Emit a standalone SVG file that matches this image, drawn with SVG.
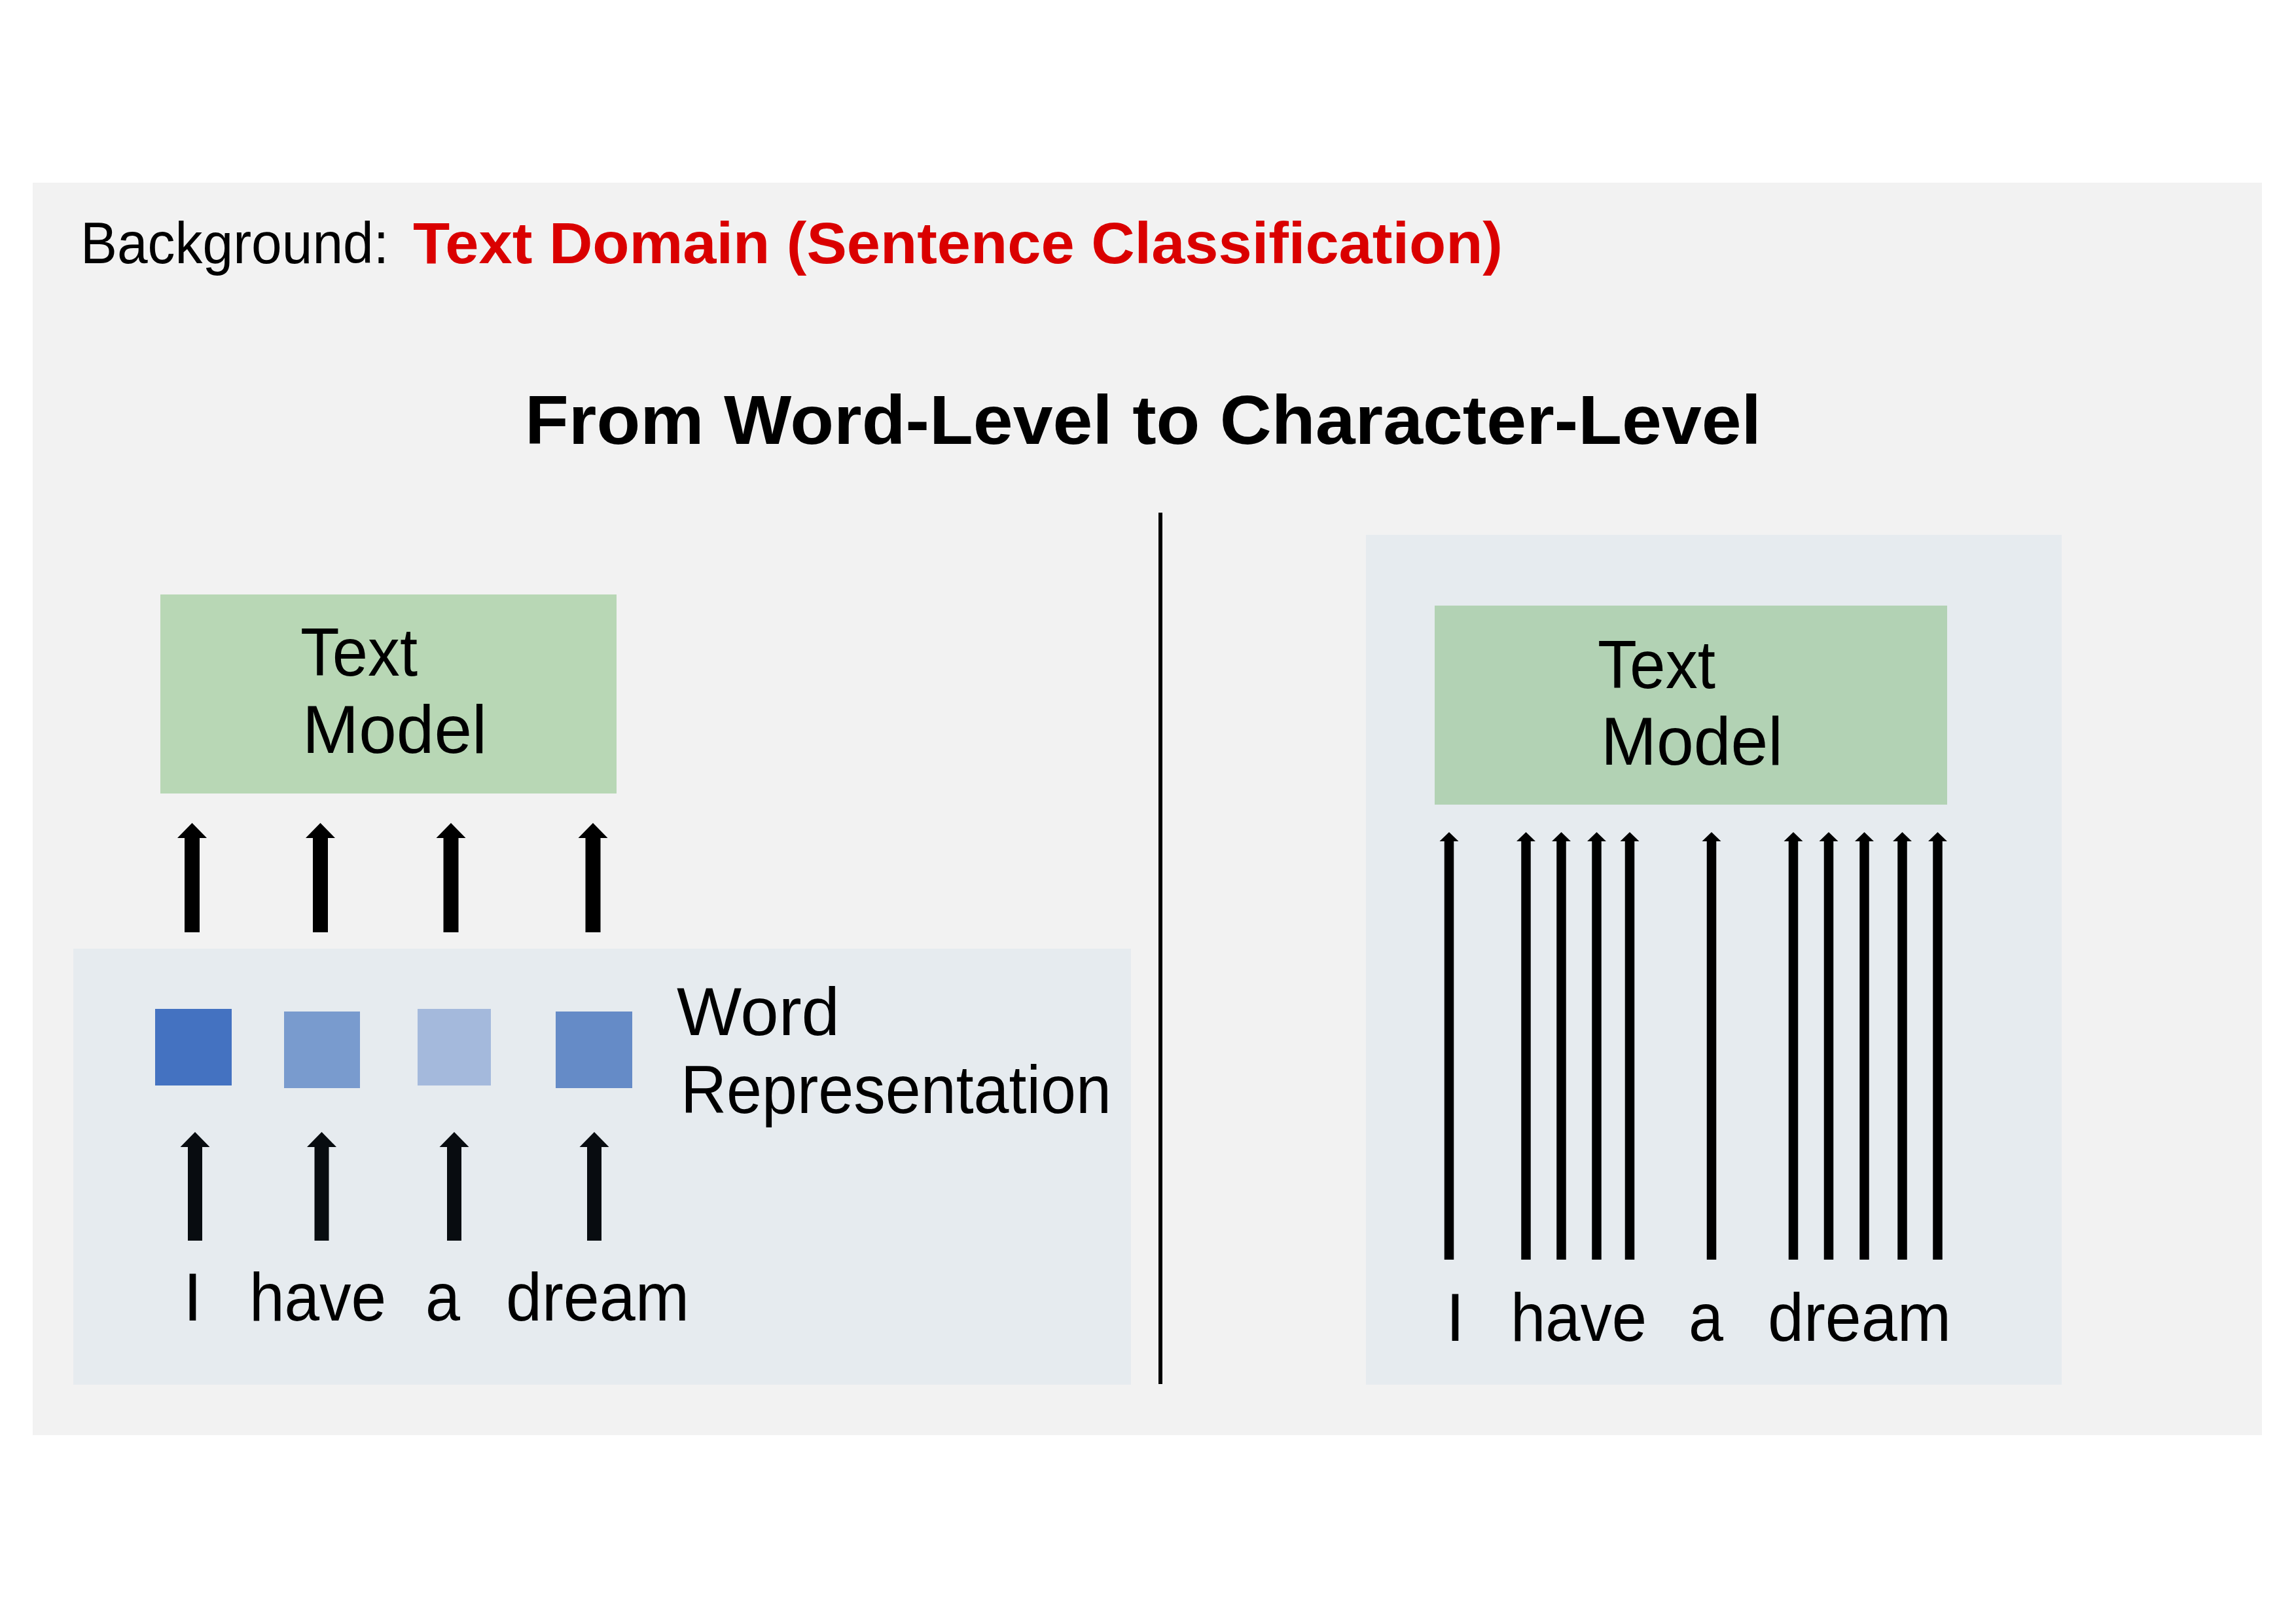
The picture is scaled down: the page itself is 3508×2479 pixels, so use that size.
<svg xmlns="http://www.w3.org/2000/svg" xmlns:xlink="http://www.w3.org/1999/xlink" width="3508" height="2479" viewBox="0 0 3508 2479">
<style>
.t{font-family:"Liberation Sans","DejaVu Sans",Arial,sans-serif;fill:#000;}
.lbl{font-size:104px;}
.bold{font-weight:700;}
.panel{fill:#E6EBEF;}
.arr{fill:#000;}
.arr2{fill:#080C10;}
</style>
<defs>
<path id="arrowL" d="M0,0 L22.5,23 L11.5,23 L11.5,167 L-11.5,167 L-11.5,23 L-22.5,23 Z"/>
<path id="arrowL2" d="M0,0 L22.5,23 L11,23 L11,166 L-11,166 L-11,23 L-22.5,23 Z"/>
<path id="arrowR" d="M0,0 L14.5,14 L7.25,14 L7.25,653 L-7.25,653 L-7.25,14 L-14.5,14 Z"/>
</defs>
<rect x="0" y="0" width="3508" height="2479" fill="#FFFFFF"/>
<rect id="background" x="50" y="279" width="3406" height="1913" fill="#F2F2F2"/>

<g id="header">
<text class="t" x="123" y="402" font-size="89" textLength="471" lengthAdjust="spacingAndGlyphs">Background:</text>
<text class="t bold" x="631" y="402" font-size="89" style="fill:#DA0000" textLength="1665" lengthAdjust="spacingAndGlyphs">Text Domain (Sentence Classification)</text>
</g>
<g id="title">
<text class="t bold" x="802" y="678" font-size="106" textLength="1889" lengthAdjust="spacingAndGlyphs">From Word-Level to Character-Level</text>
</g>

<g id="divider">
<line x1="1773" y1="783" x2="1773" y2="2114" stroke="#000" stroke-width="6"/>
</g>

<g id="word-panel">
<rect class="panel" x="112" y="1449" width="1616" height="666"/>
</g>
<g id="char-panel">
<rect class="panel" x="2087" y="817" width="1063" height="1298"/>
</g>

<g id="text-model-left">
<rect x="245" y="908" width="697" height="304" fill="#B8D7B5"/>
<text class="t lbl" x="459" y="1032" textLength="179" lengthAdjust="spacingAndGlyphs">Text</text>
<text class="t lbl" x="462" y="1150" textLength="282" lengthAdjust="spacingAndGlyphs">Model</text>
</g>

<g id="text-model-right">
<rect x="2192" y="925" width="783" height="304" fill="#B2D2B4"/>
<text class="t lbl" x="2441" y="1051" textLength="180" lengthAdjust="spacingAndGlyphs">Text</text>
<text class="t lbl" x="2446" y="1168" textLength="278" lengthAdjust="spacingAndGlyphs">Model</text>
</g>

<g id="word-representation">
<rect x="237" y="1541" width="117" height="117" fill="#4472C1"/>
<rect x="434" y="1545" width="116" height="117" fill="#799BCE"/>
<rect x="638" y="1541" width="112" height="117" fill="#A4B9DC"/>
<rect x="849" y="1545" width="117" height="117" fill="#658BC7"/>
<text class="t lbl" x="1034" y="1581" textLength="249" lengthAdjust="spacingAndGlyphs">Word</text>
<text class="t lbl" x="1040" y="1700" textLength="658" lengthAdjust="spacingAndGlyphs">Representation</text>
</g>

<g id="words-left">
<text class="t lbl" x="280" y="2017">I</text>
<text class="t lbl" x="381" y="2017" textLength="209" lengthAdjust="spacingAndGlyphs">have</text>
<text class="t lbl" x="650" y="2017" textLength="53" lengthAdjust="spacingAndGlyphs">a</text>
<text class="t lbl" x="773" y="2017" textLength="280" lengthAdjust="spacingAndGlyphs">dream</text>
</g>

<g id="words-right">
<text class="t lbl" x="2209" y="2048">I</text>
<text class="t lbl" x="2308" y="2048" textLength="208" lengthAdjust="spacingAndGlyphs">have</text>
<text class="t lbl" x="2580" y="2048" textLength="53" lengthAdjust="spacingAndGlyphs">a</text>
<text class="t lbl" x="2701" y="2048" textLength="280" lengthAdjust="spacingAndGlyphs">dream</text>
</g>

<g id="connectors">
<use href="#arrowL" xlink:href="#arrowL" class="arr" x="293.5" y="1257"/>
<use href="#arrowL" xlink:href="#arrowL" class="arr" x="489.5" y="1257"/>
<use href="#arrowL" xlink:href="#arrowL" class="arr" x="689" y="1257"/>
<use href="#arrowL" xlink:href="#arrowL" class="arr" x="906" y="1257"/>

<use href="#arrowL2" xlink:href="#arrowL2" class="arr2" x="298" y="1729"/>
<use href="#arrowL2" xlink:href="#arrowL2" class="arr2" x="491.5" y="1729"/>
<use href="#arrowL2" xlink:href="#arrowL2" class="arr2" x="694" y="1729"/>
<use href="#arrowL2" xlink:href="#arrowL2" class="arr2" x="908" y="1729"/>

<use href="#arrowR" xlink:href="#arrowR" class="arr" x="2214" y="1271"/>
<use href="#arrowR" xlink:href="#arrowR" class="arr" x="2331.5" y="1271"/>
<use href="#arrowR" xlink:href="#arrowR" class="arr" x="2385.5" y="1271"/>
<use href="#arrowR" xlink:href="#arrowR" class="arr" x="2439.5" y="1271"/>
<use href="#arrowR" xlink:href="#arrowR" class="arr" x="2490" y="1271"/>
<use href="#arrowR" xlink:href="#arrowR" class="arr" x="2615" y="1271"/>
<use href="#arrowR" xlink:href="#arrowR" class="arr" x="2740" y="1271"/>
<use href="#arrowR" xlink:href="#arrowR" class="arr" x="2794" y="1271"/>
<use href="#arrowR" xlink:href="#arrowR" class="arr" x="2848.5" y="1271"/>
<use href="#arrowR" xlink:href="#arrowR" class="arr" x="2906.5" y="1271"/>
<use href="#arrowR" xlink:href="#arrowR" class="arr" x="2960.5" y="1271"/>
</g>
</svg>
